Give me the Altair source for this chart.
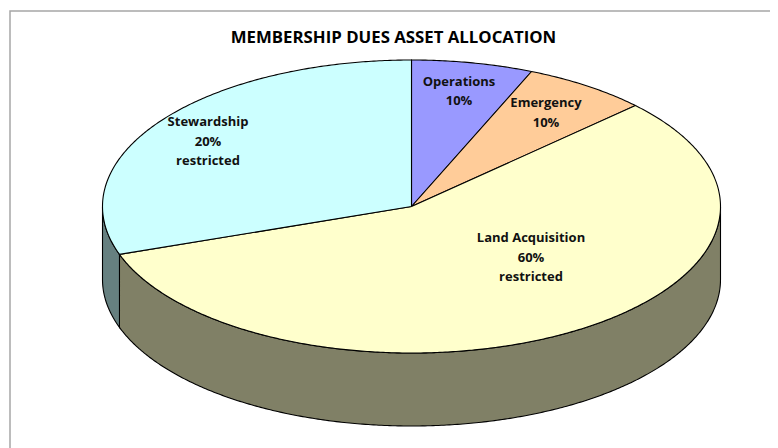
import math
import altair as alt
import pandas as pd

# Slice data (clockwise from 12 o'clock)
categories = ["Operations", "Emergency", "Land Acquisition", "Stewardship"]
shares = [6.35, 6.55, 56.8, 30.3]
top_colors = ["#9999ff", "#ffcc99", "#ffffcc", "#ccffff"]
side_colors = ["#4d4d80", "#806650", "#808066", "#668080"]

title_text = "MEMBERSHIP DUES ASSET ALLOCATION"
label_lines = ["Operations", "10%", "Emergency", "10%", "Land Acquisition", "60%", "restricted",
               "Stewardship", "20%", "restricted"]
label_x = [459, 459, 546, 546, 531, 531, 531, 208, 208, 208]
label_y = [82, 101, 103, 123, 238, 258, 277, 122, 142, 161]

cx, cy, rx, ry, depth = 411.5, 206.5, 309.0, 146.5, 73.0
FONT = "Open Sans"
W, H = 762, 440

xs = alt.X("x:Q", scale=alt.Scale(domain=[8, 770]), axis=None)
ys = alt.Y("y:Q", scale=alt.Scale(domain=[448, 8]), axis=None)
order = alt.Order("i:Q")


def pt(theta, dy=0.0):
    t = math.radians(theta)
    return cx + rx * math.sin(t), cy - ry * math.cos(t) + dy


def arc(a0, a1):
    n = max(2, int(abs(a1 - a0)) * 2)
    return [a0 + (a1 - a0) * k / n for k in range(n + 1)]


def shape(points, fill):
    df = pd.DataFrame({"x": [p[0] for p in points], "y": [p[1] for p in points],
                       "i": range(len(points))})
    return alt.Chart(df).mark_line(fill=fill, stroke="#000000", strokeWidth=1.1,
                                   interpolate="linear", clip=False).encode(x=xs, y=ys, order=order)


layers = []
# frame
frame = pd.DataFrame({"x": [10, 10, 770], "y": [448, 11, 11], "i": [0, 1, 2]})
layers.append(alt.Chart(frame).mark_line(stroke="#a6a6a6", strokeWidth=1.5).encode(x=xs, y=ys, order=order))

edges = [0.0]
for s in shares:
    edges.append(edges[-1] + s * 3.6)

# side wall: visible only on the front half of the ellipse
for k in range(len(shares)):
    a0, a1 = max(edges[k], 90.0), min(edges[k + 1], 270.0)
    if a1 <= a0:
        continue
    front = [pt(a) for a in arc(a0, a1)]
    back = [pt(a, depth) for a in arc(a1, a0)]
    layers.append(shape(front + back + [front[0]], side_colors[k]))

# top face
for k in range(len(shares)):
    centre = (cx, cy)
    layers.append(shape([centre] + [pt(a) for a in arc(edges[k], edges[k + 1])] + [centre], top_colors[k]))

labels = pd.DataFrame({"x": label_x, "y": label_y, "t": label_lines})
layers.append(alt.Chart(labels).mark_text(font=FONT, fontWeight="bold", fontSize=13, color="#111111",
                                          align="center", baseline="middle")
              .encode(x=xs, y=ys, text="t:N"))
title_df = pd.DataFrame({"x": [393.5], "y": [38], "t": [title_text]})
layers.append(alt.Chart(title_df).mark_text(font=FONT, fontWeight="bold", fontSize=16.8, color="#000000",
                                            align="center", baseline="middle")
              .encode(x=xs, y=ys, text="t:N"))

chart = alt.layer(*layers).properties(
    width=W, height=H, padding=0, autosize=alt.AutoSizeParams(type="none")
).configure_view(stroke=None)

chart.save("out.html", embed_options={"renderer": "svg", "actions": False})
